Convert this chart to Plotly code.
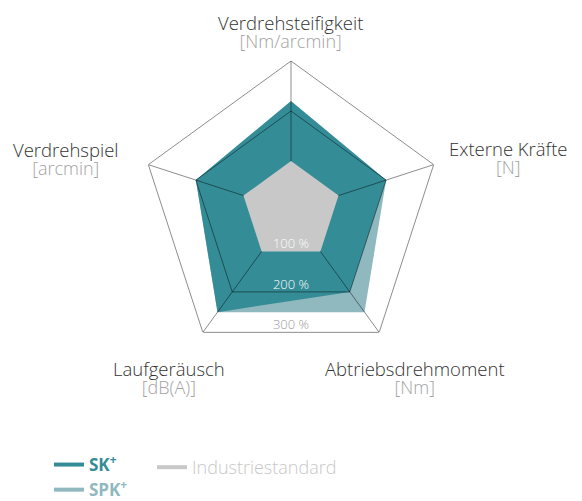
import numpy as np
import plotly.graph_objects as go

# ---- data ----
categories = ["Verdrehsteifigkeit", "Externe Kräfte", "Abtriebsdrehmoment", "Laufgeräusch", "Verdrehspiel"]
units = ["[Nm/arcmin]", "[N]", "[Nm]", "[dB(A)]", "[arcmin]"]
sk_values = [220, 200, 200, 250, 200]
spk_values = [200, 200, 250, 250, 200]
industry_values = [100, 100, 100, 100, 100]
grid_levels = [100, 200, 300]
grid_labels = ["100 %", "200 %", "300 %"]

# ---- styles ----
SK_COLOR = "#348c96"
SPK_COLOR = "#8fb8bf"
IND_COLOR = "#c7c8c7"
GRID_COLOR = "rgba(0,0,0,0.45)"
NAME_COLOR = "#333333"
UNIT_COLOR = "#a3a3a3"
FONT = "Open Sans"

# label block centres (paper fractions)
label_pos = [(290 / 582, 1 - 31.5 / 501), (508 / 582, 1 - 157.5 / 501), (415 / 582, 1 - 377.5 / 501),
             (169 / 582, 1 - 377.5 / 501), (66 / 582, 1 - 158 / 501)]

n = len(categories)
angles = [i * 360 / n for i in range(n)]


def closed(seq):
    return list(seq) + [seq[0]]


fig = go.Figure()

# SPK+ (below), SK+ fills
fig.add_trace(go.Scatterpolar(r=closed(spk_values), theta=closed(angles), mode="lines",
                              fill="toself", fillcolor=SPK_COLOR, line=dict(width=0, color=SPK_COLOR),
                              showlegend=False, hoverinfo="skip"))
fig.add_trace(go.Scatterpolar(r=closed(sk_values), theta=closed(angles), mode="lines",
                              fill="toself", fillcolor=SK_COLOR, line=dict(width=0, color=SK_COLOR),
                              showlegend=False, hoverinfo="skip"))

# grid rings (200 %, 300 %) and spokes, drawn over the product fills
for lvl in grid_levels[1:]:
    fig.add_trace(go.Scatterpolar(r=closed([lvl] * n), theta=closed(angles), mode="lines",
                                  line=dict(color=GRID_COLOR, width=1), showlegend=False,
                                  hoverinfo="skip"))
for a in angles:
    fig.add_trace(go.Scatterpolar(r=[0, grid_levels[-1]], theta=[a, a], mode="lines",
                                  line=dict(color=GRID_COLOR, width=1), showlegend=False,
                                  hoverinfo="skip"))

# industry standard on top
fig.add_trace(go.Scatterpolar(r=closed(industry_values), theta=closed(angles), mode="lines",
                              fill="toself", fillcolor=IND_COLOR, line=dict(width=0, color=IND_COLOR),
                              showlegend=False, hoverinfo="skip"))

# percentage labels along the downward direction (edge midpoints)
edge_factor = np.cos(np.pi / n)
fig.add_trace(go.Scatterpolar(r=[lvl * edge_factor for lvl in grid_levels], theta=[180] * len(grid_levels),
                              mode="text", text=grid_labels, textposition="top center",
                              textfont=dict(family=FONT, size=13, weight=300,
                                            color=["#ffffff", "#ffffff", "#9a9a9a"]),
                              showlegend=False, hoverinfo="skip", cliponaxis=False))

# legend entries
fig.add_trace(go.Scatterpolar(r=[None], theta=[None], mode="lines", line=dict(color=SK_COLOR, width=4),
                              name=f"<b><span style='color:{SK_COLOR}'>SK<sup>+</sup></span></b>",
                              legend="legend", legendgroup="sk"))
fig.add_trace(go.Scatterpolar(r=[None], theta=[None], mode="lines", line=dict(color=SPK_COLOR, width=4),
                              name=f"<b><span style='color:{SPK_COLOR}'>SPK<sup>+</sup></span></b>",
                              legend="legend", legendgroup="spk"))
fig.add_trace(go.Scatterpolar(r=[None], theta=[None], mode="lines", line=dict(color=IND_COLOR, width=4),
                              name=f"<span style='color:{IND_COLOR}'>Industriestandard</span>",
                              legend="legend2"))

annotations = []
for c, u, (lx, ly) in zip(categories, units, label_pos):
    txt = (f"<span style='font-size:18.5px;color:{NAME_COLOR}'>{c}</span><br>"
           f"<span style='font-size:18px;color:{UNIT_COLOR}'>{u}</span>")
    annotations.append(dict(text=txt, x=lx, y=ly, xref="paper", yref="paper", showarrow=False,
                            xanchor="center", yanchor="middle", align="center",
                            font=dict(family=FONT, size=14, color=NAME_COLOR, weight=300)))

fig.update_layout(
    width=582, height=501,
    margin=dict(l=0, r=0, t=0, b=0, autoexpand=False),
    paper_bgcolor="white",
    font=dict(family=FONT, color=NAME_COLOR),
    annotations=annotations,
    polar=dict(
        domain=dict(x=[141 / 582, 441 / 582], y=[1 - 361 / 501, 1 - 61 / 501]),
        bgcolor="white",
        gridshape="linear",
        radialaxis=dict(range=[0, 300], visible=True, showgrid=False, showline=False,
                        showticklabels=False, ticks=""),
        angularaxis=dict(rotation=90, direction="clockwise", thetaunit="degrees",
                         tickmode="array", tickvals=angles, ticktext=categories,
                         showticklabels=False, showgrid=False, showline=False, ticks=""),
    ),
    legend=dict(x=49 / 582, y=1 - 447 / 501, xanchor="left", yanchor="top", orientation="v",
                font=dict(family=FONT, size=17), tracegroupgap=0, itemwidth=30,
                bgcolor="rgba(0,0,0,0)"),
    legend2=dict(x=152 / 582, y=1 - 449 / 501, xanchor="left", yanchor="top", orientation="v",
                 font=dict(family=FONT, size=18, weight=300), itemwidth=30,
                 bgcolor="rgba(0,0,0,0)"),
    showlegend=True,
)

fig.write_html("out.html")
